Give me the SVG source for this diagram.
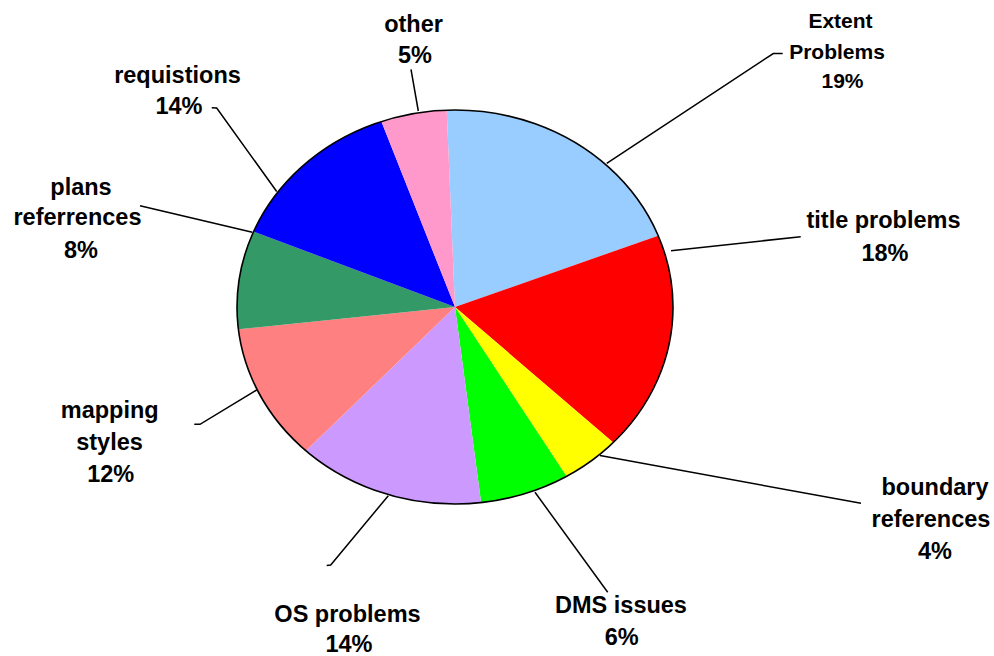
<svg xmlns="http://www.w3.org/2000/svg" width="994" height="656" viewBox="0 0 994 656">
<style>
.lbl{font-family:"Liberation Sans",Arial,sans-serif;font-weight:bold;font-size:23.5px;fill:#000;text-anchor:middle}
.sm{font-size:21px}
.lead{fill:none;stroke:#000;stroke-width:1.5}
</style>
<rect width="994" height="656" fill="#fff"/>
<g id="pie">
<g id="extent"><path d="M455,307 L446.7,110.1 A218,197 0 0 1 658.2,235.7 Z" fill="#99CCFF"/></g>
<g id="title"><path d="M455,307 L658.2,235.7 A218,197 0 0 1 613.2,442.5 Z" fill="#FF0000"/></g>
<g id="boundary"><path d="M455,307 L613.2,442.5 A218,197 0 0 1 566.5,476.3 Z" fill="#FFFF00"/></g>
<g id="dms"><path d="M455,307 L566.5,476.3 A218,197 0 0 1 481.1,502.6 Z" fill="#00FF00"/></g>
<g id="os"><path d="M455,307 L481.1,502.6 A218,197 0 0 1 305.9,450.7 Z" fill="#CC99FF"/></g>
<g id="mapping"><path d="M455,307 L305.9,450.7 A218,197 0 0 1 238.4,329.3 Z" fill="#FF8080"/></g>
<g id="plans"><path d="M455,307 L238.4,329.3 A218,197 0 0 1 253.6,231.6 Z" fill="#339966"/></g>
<g id="requistions"><path d="M455,307 L253.6,231.6 A218,197 0 0 1 381.4,121.6 Z" fill="#0000FF"/></g>
<g id="other"><path d="M455,307 L381.4,121.6 A218,197 0 0 1 446.7,110.1 Z" fill="#FF99CC"/></g>
<ellipse cx="455" cy="307" rx="218" ry="197" fill="none" stroke="#000" stroke-width="1.6"/>
</g>
<g id="connectors">
<polyline class="lead" points="606.7,163.3 773.3,53.5 782.7,53.5"/>
<polyline class="lead" points="671,250.7 800.7,236.7"/>
<polyline class="lead" points="600,455.5 861,503.3"/>
<polyline class="lead" points="535,492.3 607.7,592.3"/>
<polyline class="lead" points="388.3,495.7 330.7,565 326.7,565.5"/>
<polyline class="lead" points="256.7,390 200,424.3 194.3,424.3"/>
<polyline class="lead" points="252.3,232.3 140,205.7"/>
<polyline class="lead" points="276.7,191.5 216.7,108 211.7,107.7"/>
<polyline class="lead" points="418.3,111 411,69.3"/>
</g>
<g id="labels">
<text class="lbl sm" x="840.5" y="28">Extent</text>
<text class="lbl sm" x="837" y="59">Problems</text>
<text class="lbl sm" x="842.5" y="88.3">19%</text>
<text class="lbl" x="883.5" y="227.7">title problems</text>
<text class="lbl" x="885" y="260.7">18%</text>
<text class="lbl" x="935" y="495">boundary</text>
<text class="lbl" x="931" y="527.3">references</text>
<text class="lbl" x="935" y="559">4%</text>
<text class="lbl" x="621" y="612.5">DMS issues</text>
<text class="lbl" x="621.7" y="645">6%</text>
<text class="lbl" x="347.5" y="622">OS problems</text>
<text class="lbl" x="349" y="652">14%</text>
<text class="lbl" x="109.7" y="418.3">mapping</text>
<text class="lbl" x="109.5" y="450">styles</text>
<text class="lbl" x="110.7" y="481.7">12%</text>
<text class="lbl" x="81" y="195">plans</text>
<text class="lbl" x="77.5" y="225">referrences</text>
<text class="lbl" x="81" y="257.7">8%</text>
<text class="lbl" x="177.5" y="82.7">requistions</text>
<text class="lbl" x="179" y="114">14%</text>
<text class="lbl" x="413.5" y="31.7">other</text>
<text class="lbl" x="415" y="62.7">5%</text>
</g>
</svg>
